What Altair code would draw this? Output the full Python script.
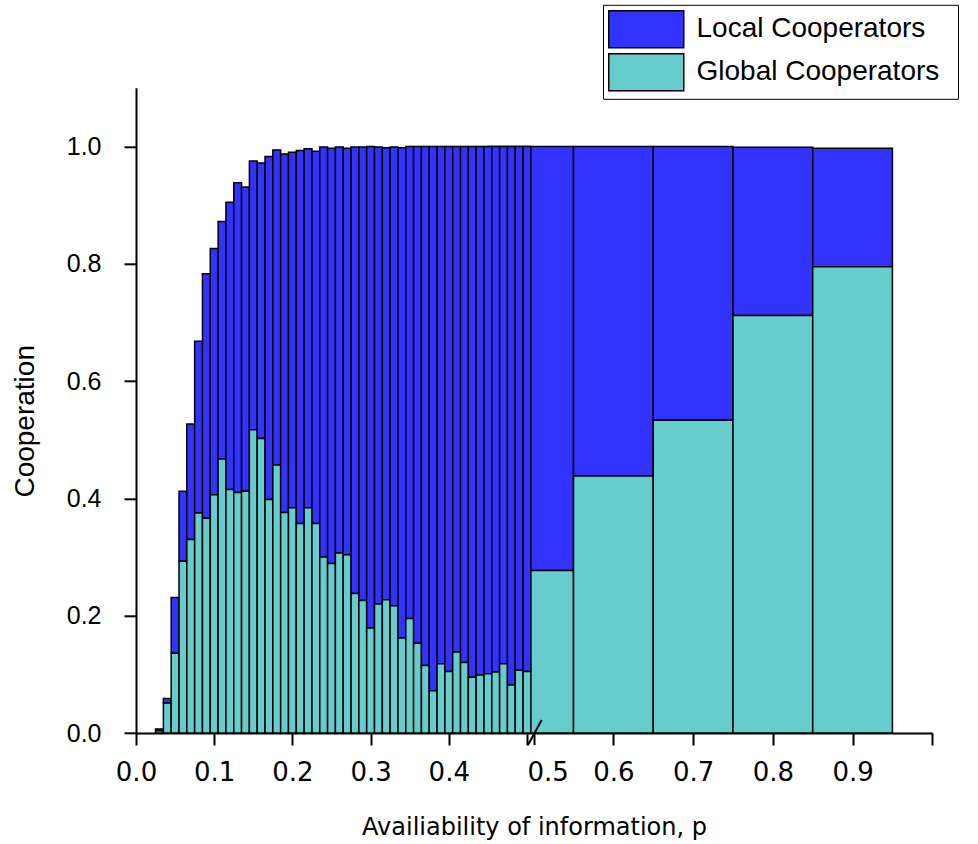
import altair as alt
import pandas as pd

# ---- data ----
p_narrow = [0.03, 0.04, 0.05, 0.06, 0.07, 0.08, 0.09, 0.10, 0.11, 0.12,
            0.13, 0.14, 0.15, 0.16, 0.17, 0.18, 0.19, 0.20, 0.21, 0.22,
            0.23, 0.24, 0.25, 0.26, 0.27, 0.28, 0.29, 0.30, 0.31, 0.32,
            0.33, 0.34, 0.35, 0.36, 0.37, 0.38, 0.39, 0.40, 0.41, 0.42,
            0.43, 0.44, 0.45, 0.46, 0.47, 0.48, 0.49, 0.50]
total_narrow = [0.007, 0.059, 0.231, 0.412, 0.527, 0.668, 0.783, 0.826, 0.872, 0.905,
                0.938, 0.931, 0.975, 0.972, 0.983, 0.994, 0.987, 0.990, 0.993, 0.996,
                0.992, 0.999, 0.997, 0.999, 0.997, 0.999, 0.999, 1.000, 0.999, 0.998,
                0.999, 0.998, 1.000, 1.000, 1.000, 1.000, 1.000, 1.000, 1.000, 1.000,
                1.000, 1.000, 1.000, 1.000, 1.000, 1.000, 1.000, 1.000]
global_narrow = [0.004, 0.051, 0.136, 0.293, 0.330, 0.375, 0.366, 0.406, 0.467, 0.415,
                 0.410, 0.412, 0.517, 0.502, 0.398, 0.457, 0.376, 0.384, 0.357, 0.384,
                 0.357, 0.300, 0.289, 0.307, 0.304, 0.238, 0.226, 0.179, 0.220, 0.227,
                 0.217, 0.162, 0.195, 0.153, 0.115, 0.072, 0.118, 0.105, 0.138, 0.120,
                 0.095, 0.099, 0.101, 0.104, 0.118, 0.082, 0.107, 0.105]
binw_narrow = 0.01

p_wide = [0.5, 0.6, 0.7, 0.8, 0.9]
total_wide = [1.000, 1.000, 1.000, 0.9986, 0.997]
global_wide = [0.277, 0.438, 0.533, 0.712, 0.795]
binw_wide = 0.1

series = ["Local Cooperators", "Global Cooperators"]
colors = ["#3333ff", "#66cccc"]

x_ticks = [0.0, 0.1, 0.2, 0.3, 0.4, 0.5, 0.6, 0.7, 0.8, 0.9, 1.0]
y_ticks = [0.0, 0.2, 0.4, 0.6, 0.8, 1.0]

# axis-break glyph (data units)
brk_x = [0.5013, 0.5088]
brk_x2 = [0.5164, 0.5088]
brk_y = [-0.0205, -0.0205]
brk_y2 = [0.0222, 0.0]

# ---- build table ----
rows = []
for ps, ts, gs, w in [(p_wide, total_wide, global_wide, binw_wide),
                      (p_narrow, total_narrow, global_narrow, binw_narrow)]:
    for p, t, g in zip(ps, ts, gs):
        rows.append(dict(x=p - w / 2, x2=p + w / 2, y=g, y2=t, kind=series[0]))
        rows.append(dict(x=p - w / 2, x2=p + w / 2, y=0.0, y2=g, kind=series[1]))
df = pd.DataFrame(rows)
brk = pd.DataFrame(dict(x=brk_x, x2=brk_x2, y=brk_y, y2=brk_y2))

W = 796.3
H = 645.2
xscale = alt.Scale(domain=[0, 0.505, 0.55, 1.0], range=[0, 394.9, 437.5, W], nice=False, zero=False)
yscale = alt.Scale(domain=[0, 1.1], nice=False, zero=False)

xaxis = alt.Axis(
    values=x_ticks, format=".1f",
    labelExpr="datum.value > 0.95 ? '' : format(datum.value, '.1f')",
    labelFont="DejaVu Sans", labelFontSize=26, labelColor="black",
    labelPadding=14, labelFlush=False, labelOverlap=False,
    labelAlign={"condition": {"test": "abs(datum.value - 0.5) < 0.001", "value": "left"}, "value": "center"},
    title="Availiability of information, p", titleFont="DejaVu Sans", titleFontSize=24,
    titleFontWeight="normal", titleColor="black",
    titleX=398, titleY=101, titleAlign="center", titleBaseline="alphabetic",
)
yaxis = alt.Axis(
    values=y_ticks, format=".1f",
    labelFont="Liberation Sans", labelFontSize=25, labelColor="black",
    labelPadding=23, labelFlush=False, labelOverlap=False,
    title="Cooperation", titleFont="Liberation Sans", titleFontSize=28,
    titleFontWeight="normal", titleColor="black",
    titleX=-111, titleY=333, titleAngle=270, titleAlign="center", titleBaseline="middle",
)

legend = alt.Legend(
    title="\u00a0", titleOrient="right", titlePadding=14, titleFontSize=4, titleColor="white",
    orient="none", legendX=467, legendY=-83,
    symbolType="M-1,-0.986H3V0.986H-1Z", symbolSize=1406.25,
    symbolStrokeColor="black", symbolStrokeWidth=1.5, symbolOpacity=1,
    labelFont="Liberation Sans", labelFontSize=28, labelColor="black",
    labelOffset=49.5, labelLimit=500, rowPadding=0, padding=5,
    strokeColor="black", fillColor="white",
)

bars = alt.Chart(df).mark_rect(stroke="black", strokeWidth=1.5, opacity=1).encode(
    x=alt.X("x:Q", scale=xscale, axis=xaxis),
    x2="x2:Q",
    y=alt.Y("y:Q", scale=yscale, axis=yaxis),
    y2="y2:Q",
    color=alt.Color("kind:N", scale=alt.Scale(domain=series, range=colors), legend=legend),
)

breakmark = alt.Chart(brk).mark_rule(color="black", strokeWidth=2).encode(
    x="x:Q", x2="x2:Q", y="y:Q", y2="y2:Q"
)

chart = alt.layer(bars, breakmark).properties(
    width=W, height=H,
    autosize=alt.AutoSizeParams(type="none"),
    padding={"left": 136, "top": 87.8, "right": 978 - 136 - W, "bottom": 844 - 87.8 - H},
    background="white",
).configure_view(stroke=None).configure_axis(
    grid=False, domainColor="black", domainWidth=2, tickColor="black", tickWidth=2, tickSize=12,
)

chart.save("out.html", embed_options={"renderer": "svg", "actions": False})
